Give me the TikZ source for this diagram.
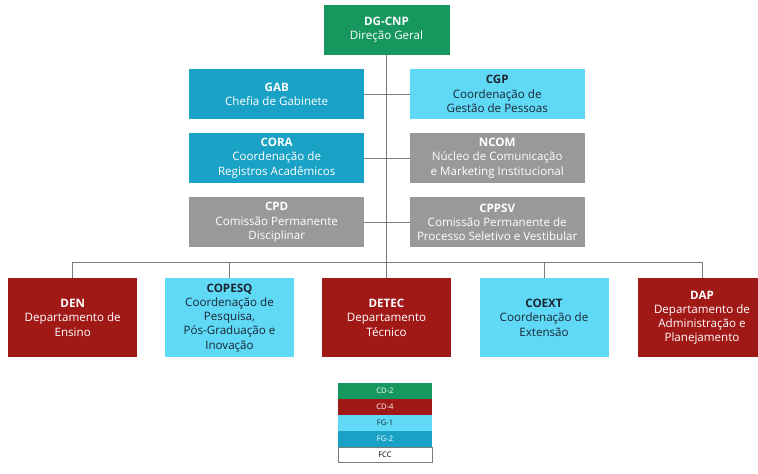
\documentclass[tikz,border=0pt]{standalone}
\usepackage{fontspec}
\setmainfont{Open Sans}
\definecolor{cgreen}{HTML}{15975E}
\definecolor{cred}{HTML}{A11916}
\definecolor{clight}{HTML}{5FD9F6}
\definecolor{cteal}{HTML}{19A2C6}
\definecolor{cgray}{HTML}{999999}
\definecolor{cline}{HTML}{7A7A7A}
\definecolor{cdark}{HTML}{1C2633}
\begin{document}
\begin{tikzpicture}[x=1pt,y=-1pt,
  box/.style={inner sep=0pt,outer sep=0pt,align=center,font=\fontsize{11.6}{14.2}\selectfont},
  mid/.style={box,minimum width=175,minimum height=50},
  bot/.style={box,minimum width=129,minimum height=79},
  green/.style={fill=cgreen,text=white},
  red/.style={fill=cred,text=white},
  light/.style={fill=clight,text=cdark},
  teal/.style={fill=cteal,text=white},
  gray/.style={fill=cgray,text=white},
  conn/.style={draw=cline,line width=0.8pt},
  leg/.style={inner sep=0pt,outer sep=0pt,minimum width=94,minimum height=16,font=\fontsize{7.6}{8}\selectfont}]
\useasboundingbox (0,0) rectangle (758,474);
\node[box,green,minimum width=126,minimum height=50] (dg) at (386.5,30) {\textbf{DG-CNP}\\Direção Geral};
\node[mid,teal] (gab) at (276.7,94) {\textbf{GAB}\\Chefia de Gabinete};
\node[mid,light] (cgp) at (497.2,94) {\textbf{CGP}\\Coordenação de\\Gestão de Pessoas};
\node[mid,teal] (cora) at (276.7,158) {\textbf{CORA}\\Coordenação de\\Registros Acadêmicos};
\node[mid,gray] (ncom) at (497.2,158) {\textbf{NCOM}\\Núcleo de Comunicação\\e Marketing Institucional};
\node[mid,gray] (cpd) at (276.7,222.3) {\textbf{CPD}\\Comissão Permanente\\Disciplinar};
\node[mid,gray] (cppsv) at (497.2,222.3) {\textbf{CPPSV}\\Comissão Permanente de\\Processo Seletivo e Vestibular};
\node[bot,red] (den) at (72.7,317.8) {\textbf{DEN}\\Departamento de\\Ensino};
\node[bot,light] (copesq) at (229.5,317.8) {\textbf{COPESQ}\\Coordenação de\\Pesquisa,\\Pós-Graduação e\\Inovação};
\node[bot,red] (detec) at (386.5,317.8) {\textbf{DETEC}\\Departamento\\Técnico};
\node[bot,light] (coext) at (544,317.8) {\textbf{COEXT}\\Coordenação de\\Extensão};
\node[bot,red] (dap) at (702,317.8) {\textbf{DAP}\\Departamento de\\Administração e\\Planejamento};
\coordinate (busY) at (0,262.7);
\draw[conn] (dg.south) -- (detec.north);
\draw[conn] (gab.east) -- (cgp.west);
\draw[conn] (cora.east) -- (ncom.west);
\draw[conn] (cpd.east) -- (cppsv.west);
\draw[conn] (den.north) -- (den.north |- busY) -- (dap.north |- busY) -- (dap.north);
\draw[conn] (copesq.north) -- (copesq.north |- busY);
\draw[conn] (coext.north) -- (coext.north |- busY);
\node[leg,fill=cgreen,text=white] (l1) at (385,391) {CD-2};
\node[leg,fill=cred,text=white,anchor=north] (l2) at (l1.south) {CD-4};
\node[leg,fill=clight,text=cdark,anchor=north] (l3) at (l2.south) {FG-1};
\node[leg,fill=cteal,text=white,anchor=north] (l4) at (l3.south) {FG-2};
\node[leg,fill=white,text=black,draw=cline,line width=0.5pt,anchor=north,minimum width=93.5,minimum height=15.5] (l5) at (l4.south) {FCC};
\end{tikzpicture}
\end{document}
